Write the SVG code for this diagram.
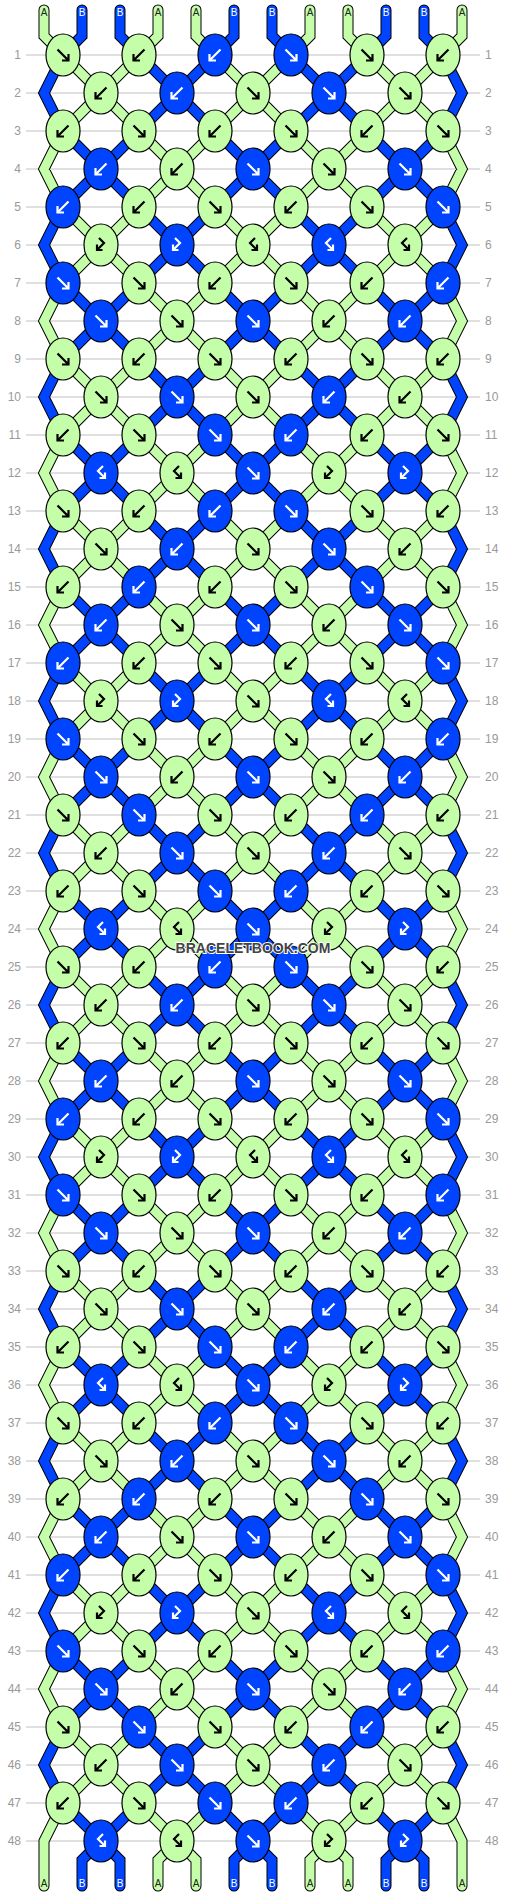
<svg xmlns="http://www.w3.org/2000/svg" xmlns:xlink="http://www.w3.org/1999/xlink" width="506" height="1896" viewBox="0 0 506 1896">
<style>
.kg{fill:#c4fea9;stroke:#000;stroke-width:1.2}
.kb{fill:#0044ff;stroke:#000;stroke-width:1.2}
.ab{fill:none;stroke:#000;stroke-width:2.2}
.aw{fill:none;stroke:#fff;stroke-width:2.2}
.ol{fill:none;stroke:#000;stroke-width:11}
.cg{fill:none;stroke:#c4fea9;stroke-width:9}
.cb{fill:none;stroke:#0044ff;stroke-width:9}
.rc{stroke-linecap:round}
.grid{fill:none;stroke:#c0c0c0;stroke-width:1}
.num{font-family:"Liberation Sans",Arial,sans-serif;font-size:12px;fill:#999}
.lbl{font-family:"Liberation Sans",Arial,sans-serif;font-size:10px;text-anchor:middle}
.la{fill:#222}
.lw{fill:#fff}
.wm{font-family:"Liberation Sans",Arial,sans-serif;font-size:14px;font-weight:bold;fill:#444;stroke:#fff;stroke-width:2;paint-order:stroke;text-anchor:middle}
</style>
<defs>
<clipPath id="cp"><rect x="0" y="55" width="506" height="1786"/></clipPath>
<path id="aF" d="M-5.5-5.5L5.5 5.5M5.5-1V5.5H-1"/>
<path id="aB" d="M5.5-5.5L-5.5 5.5M-5.5-1V5.5H1"/>
<path id="aL" d="M-2-7L3-2L-4 5M-4-0.5V5H1.5"/>
<path id="aR" d="M2-7L-3-2L4 5M4-0.5V5H-1.5"/>
<g id="gF"><ellipse class="kg" rx="17" ry="21"/><use href="#aF" class="ab"/></g>
<g id="gB"><ellipse class="kg" rx="17" ry="21"/><use href="#aB" class="ab"/></g>
<g id="gL"><ellipse class="kg" rx="17" ry="21"/><use href="#aL" class="ab"/></g>
<g id="gR"><ellipse class="kg" rx="17" ry="21"/><use href="#aR" class="ab"/></g>
<g id="bF"><ellipse class="kb" rx="17" ry="21"/><use href="#aF" class="aw"/></g>
<g id="bB"><ellipse class="kb" rx="17" ry="21"/><use href="#aB" class="aw"/></g>
<g id="bL"><ellipse class="kb" rx="17" ry="21"/><use href="#aL" class="aw"/></g>
<g id="bR"><ellipse class="kb" rx="17" ry="21"/><use href="#aR" class="aw"/></g>
<path id="dg" d="M63-249l380 380M443-249l-380 380M63-97l380 380M443-97l-380 380M63 55l380 380M443 55l-380 380M63 207l380 380M443 207l-380 380M63 359l380 380M443 359l-380 380M63 511l380 380M443 511l-380 380M63 663l380 380M443 663l-380 380M63 815l380 380M443 815l-380 380M63 967l380 380M443 967l-380 380M63 1119l380 380M443 1119l-380 380M63 1271l380 380M443 1271l-380 380M63 1423l380 380M443 1423l-380 380M63 1575l380 380M443 1575l-380 380M63 1727l380 380M443 1727l-380 380"/>
<path id="db" d="M63-173l380 380M443-173l-380 380M63-21l380 380M443-21l-380 380M63 131l380 380M443 131l-380 380M63 283l380 380M443 283l-380 380M63 435l380 380M443 435l-380 380M63 587l380 380M443 587l-380 380M63 739l380 380M443 739l-380 380M63 891l380 380M443 891l-380 380M63 1043l380 380M443 1043l-380 380M63 1195l380 380M443 1195l-380 380M63 1347l380 380M443 1347l-380 380M63 1499l380 380M443 1499l-380 380M63 1651l380 380M443 1651l-380 380M63 1803l380 380M443 1803l-380 380"/>
<path id="eb" d="M63 55L44 93L63 131M63 207L44 245L63 283M63 359L44 397L63 435M63 511L44 549L63 587M63 663L44 701L63 739M63 815L44 853L63 891M63 967L44 1005L63 1043M63 1119L44 1157L63 1195M63 1271L44 1309L63 1347M63 1423L44 1461L63 1499M63 1575L44 1613L63 1651M63 1727L44 1765L63 1803M443 55L462 93L443 131M443 207L462 245L443 283M443 359L462 397L443 435M443 511L462 549L443 587M443 663L462 701L443 739M443 815L462 853L443 891M443 967L462 1005L443 1043M443 1119L462 1157L443 1195M443 1271L462 1309L443 1347M443 1423L462 1461L443 1499M443 1575L462 1613L443 1651M443 1727L462 1765L443 1803"/>
<path id="eg2" d="M63 131L44 169L63 207M63 283L44 321L63 359M63 435L44 473L63 511M63 587L44 625L63 663M63 739L44 777L63 815M63 891L44 929L63 967M63 1043L44 1081L63 1119M63 1195L44 1233L63 1271M63 1347L44 1385L63 1423M63 1499L44 1537L63 1575M63 1651L44 1689L63 1727M443 131L462 169L443 207M443 283L462 321L443 359M443 435L462 473L443 511M443 587L462 625L443 663M443 739L462 777L443 815M443 891L462 929L443 967M443 1043L462 1081L443 1119M443 1195L462 1233L443 1271M443 1347L462 1385L443 1423M443 1499L462 1537L443 1575M443 1651L462 1689L443 1727"/>
<path id="sg" d="M44 10V36L63 55M158 10V36L139 55M196 10V36L215 55M310 10V36L291 55M348 10V36L367 55M462 10V36L443 55M63 1803L44 1841V1886M443 1803L462 1841V1886M177 1841L158 1860V1886M177 1841L196 1860V1886M329 1841L310 1860V1886M329 1841L348 1860V1886"/>
<path id="sb" d="M82 10V36L63 55M120 10V36L139 55M234 10V36L215 55M272 10V36L291 55M386 10V36L367 55M424 10V36L443 55M101 1841L82 1860V1886M101 1841L120 1860V1886M253 1841L234 1860V1886M253 1841L272 1860V1886M405 1841L386 1860V1886M405 1841L424 1860V1886"/>
</defs>
<rect width="506" height="1896" fill="#fff"/>
<path class="grid" d="M26 55H480M26 93H480M26 131H480M26 169H480M26 207H480M26 245H480M26 283H480M26 321H480M26 359H480M26 397H480M26 435H480M26 473H480M26 511H480M26 549H480M26 587H480M26 625H480M26 663H480M26 701H480M26 739H480M26 777H480M26 815H480M26 853H480M26 891H480M26 929H480M26 967H480M26 1005H480M26 1043H480M26 1081H480M26 1119H480M26 1157H480M26 1195H480M26 1233H480M26 1271H480M26 1309H480M26 1347H480M26 1385H480M26 1423H480M26 1461H480M26 1499H480M26 1537H480M26 1575H480M26 1613H480M26 1651H480M26 1689H480M26 1727H480M26 1765H480M26 1803H480M26 1841H480"/>
<g id="connectors">
<g clip-path="url(#cp)">
<use href="#dg" class="ol"/>
<use href="#db" class="ol"/>
</g>
<use href="#eb" class="ol rc"/>
<use href="#eg2" class="ol rc"/>
<use href="#sg" class="ol rc"/>
<use href="#sb" class="ol rc"/>
<g clip-path="url(#cp)">
<use href="#dg" class="cg"/>
<use href="#db" class="cb"/>
</g>
<use href="#eb" class="cb rc"/>
<use href="#eg2" class="cg rc"/>
<use href="#sg" class="cg rc"/>
<use href="#sb" class="cb rc"/>
</g>
<g id="knots">
<g id="n1-1"><use href="#gF" x="63" y="55"/></g><g id="n1-2"><use href="#gB" x="139" y="55"/></g><g id="n1-3"><use href="#bB" x="215" y="55"/></g><g id="n1-4"><use href="#bF" x="291" y="55"/></g><g id="n1-5"><use href="#gF" x="367" y="55"/></g><g id="n1-6"><use href="#gB" x="443" y="55"/></g>
<g id="n2-1"><use href="#gB" x="101" y="93"/></g><g id="n2-2"><use href="#bB" x="177" y="93"/></g><g id="n2-3"><use href="#gF" x="253" y="93"/></g><g id="n2-4"><use href="#bF" x="329" y="93"/></g><g id="n2-5"><use href="#gF" x="405" y="93"/></g>
<g id="n3-1"><use href="#gB" x="63" y="131"/></g><g id="n3-2"><use href="#gF" x="139" y="131"/></g><g id="n3-3"><use href="#gB" x="215" y="131"/></g><g id="n3-4"><use href="#gF" x="291" y="131"/></g><g id="n3-5"><use href="#gB" x="367" y="131"/></g><g id="n3-6"><use href="#gF" x="443" y="131"/></g>
<g id="n4-1"><use href="#bB" x="101" y="169"/></g><g id="n4-2"><use href="#gB" x="177" y="169"/></g><g id="n4-3"><use href="#bF" x="253" y="169"/></g><g id="n4-4"><use href="#gF" x="329" y="169"/></g><g id="n4-5"><use href="#bF" x="405" y="169"/></g>
<g id="n5-1"><use href="#bB" x="63" y="207"/></g><g id="n5-2"><use href="#gB" x="139" y="207"/></g><g id="n5-3"><use href="#gF" x="215" y="207"/></g><g id="n5-4"><use href="#gB" x="291" y="207"/></g><g id="n5-5"><use href="#gF" x="367" y="207"/></g><g id="n5-6"><use href="#bF" x="443" y="207"/></g>
<g id="n6-1"><use href="#gL" x="101" y="245"/></g><g id="n6-2"><use href="#bL" x="177" y="245"/></g><g id="n6-3"><use href="#gR" x="253" y="245"/></g><g id="n6-4"><use href="#bR" x="329" y="245"/></g><g id="n6-5"><use href="#gR" x="405" y="245"/></g>
<g id="n7-1"><use href="#bF" x="63" y="283"/></g><g id="n7-2"><use href="#gF" x="139" y="283"/></g><g id="n7-3"><use href="#gB" x="215" y="283"/></g><g id="n7-4"><use href="#gF" x="291" y="283"/></g><g id="n7-5"><use href="#gB" x="367" y="283"/></g><g id="n7-6"><use href="#bB" x="443" y="283"/></g>
<g id="n8-1"><use href="#bF" x="101" y="321"/></g><g id="n8-2"><use href="#gF" x="177" y="321"/></g><g id="n8-3"><use href="#bF" x="253" y="321"/></g><g id="n8-4"><use href="#gB" x="329" y="321"/></g><g id="n8-5"><use href="#bB" x="405" y="321"/></g>
<g id="n9-1"><use href="#gF" x="63" y="359"/></g><g id="n9-2"><use href="#gB" x="139" y="359"/></g><g id="n9-3"><use href="#gF" x="215" y="359"/></g><g id="n9-4"><use href="#gB" x="291" y="359"/></g><g id="n9-5"><use href="#gF" x="367" y="359"/></g><g id="n9-6"><use href="#gB" x="443" y="359"/></g>
<g id="n10-1"><use href="#gF" x="101" y="397"/></g><g id="n10-2"><use href="#bF" x="177" y="397"/></g><g id="n10-3"><use href="#gF" x="253" y="397"/></g><g id="n10-4"><use href="#bB" x="329" y="397"/></g><g id="n10-5"><use href="#gB" x="405" y="397"/></g>
<g id="n11-1"><use href="#gB" x="63" y="435"/></g><g id="n11-2"><use href="#gF" x="139" y="435"/></g><g id="n11-3"><use href="#bF" x="215" y="435"/></g><g id="n11-4"><use href="#bB" x="291" y="435"/></g><g id="n11-5"><use href="#gB" x="367" y="435"/></g><g id="n11-6"><use href="#gF" x="443" y="435"/></g>
<g id="n12-1"><use href="#bR" x="101" y="473"/></g><g id="n12-2"><use href="#gR" x="177" y="473"/></g><g id="n12-3"><use href="#bF" x="253" y="473"/></g><g id="n12-4"><use href="#gL" x="329" y="473"/></g><g id="n12-5"><use href="#bL" x="405" y="473"/></g>
<g id="n13-1"><use href="#gF" x="63" y="511"/></g><g id="n13-2"><use href="#gB" x="139" y="511"/></g><g id="n13-3"><use href="#bB" x="215" y="511"/></g><g id="n13-4"><use href="#bF" x="291" y="511"/></g><g id="n13-5"><use href="#gF" x="367" y="511"/></g><g id="n13-6"><use href="#gB" x="443" y="511"/></g>
<g id="n14-1"><use href="#gF" x="101" y="549"/></g><g id="n14-2"><use href="#bB" x="177" y="549"/></g><g id="n14-3"><use href="#gF" x="253" y="549"/></g><g id="n14-4"><use href="#bF" x="329" y="549"/></g><g id="n14-5"><use href="#gB" x="405" y="549"/></g>
<g id="n15-1"><use href="#gB" x="63" y="587"/></g><g id="n15-2"><use href="#bB" x="139" y="587"/></g><g id="n15-3"><use href="#gB" x="215" y="587"/></g><g id="n15-4"><use href="#gF" x="291" y="587"/></g><g id="n15-5"><use href="#bF" x="367" y="587"/></g><g id="n15-6"><use href="#gF" x="443" y="587"/></g>
<g id="n16-1"><use href="#bB" x="101" y="625"/></g><g id="n16-2"><use href="#gF" x="177" y="625"/></g><g id="n16-3"><use href="#bF" x="253" y="625"/></g><g id="n16-4"><use href="#gB" x="329" y="625"/></g><g id="n16-5"><use href="#bF" x="405" y="625"/></g>
<g id="n17-1"><use href="#bB" x="63" y="663"/></g><g id="n17-2"><use href="#gB" x="139" y="663"/></g><g id="n17-3"><use href="#gF" x="215" y="663"/></g><g id="n17-4"><use href="#gB" x="291" y="663"/></g><g id="n17-5"><use href="#gF" x="367" y="663"/></g><g id="n17-6"><use href="#bF" x="443" y="663"/></g>
<g id="n18-1"><use href="#gL" x="101" y="701"/></g><g id="n18-2"><use href="#bL" x="177" y="701"/></g><g id="n18-3"><use href="#gF" x="253" y="701"/></g><g id="n18-4"><use href="#bR" x="329" y="701"/></g><g id="n18-5"><use href="#gR" x="405" y="701"/></g>
<g id="n19-1"><use href="#bF" x="63" y="739"/></g><g id="n19-2"><use href="#gF" x="139" y="739"/></g><g id="n19-3"><use href="#gB" x="215" y="739"/></g><g id="n19-4"><use href="#gF" x="291" y="739"/></g><g id="n19-5"><use href="#gB" x="367" y="739"/></g><g id="n19-6"><use href="#bB" x="443" y="739"/></g>
<g id="n20-1"><use href="#bF" x="101" y="777"/></g><g id="n20-2"><use href="#gB" x="177" y="777"/></g><g id="n20-3"><use href="#bF" x="253" y="777"/></g><g id="n20-4"><use href="#gF" x="329" y="777"/></g><g id="n20-5"><use href="#bB" x="405" y="777"/></g>
<g id="n21-1"><use href="#gF" x="63" y="815"/></g><g id="n21-2"><use href="#bF" x="139" y="815"/></g><g id="n21-3"><use href="#gF" x="215" y="815"/></g><g id="n21-4"><use href="#gB" x="291" y="815"/></g><g id="n21-5"><use href="#bB" x="367" y="815"/></g><g id="n21-6"><use href="#gB" x="443" y="815"/></g>
<g id="n22-1"><use href="#gB" x="101" y="853"/></g><g id="n22-2"><use href="#bF" x="177" y="853"/></g><g id="n22-3"><use href="#gF" x="253" y="853"/></g><g id="n22-4"><use href="#bB" x="329" y="853"/></g><g id="n22-5"><use href="#gF" x="405" y="853"/></g>
<g id="n23-1"><use href="#gB" x="63" y="891"/></g><g id="n23-2"><use href="#gF" x="139" y="891"/></g><g id="n23-3"><use href="#bF" x="215" y="891"/></g><g id="n23-4"><use href="#bB" x="291" y="891"/></g><g id="n23-5"><use href="#gB" x="367" y="891"/></g><g id="n23-6"><use href="#gF" x="443" y="891"/></g>
<g id="n24-1"><use href="#bR" x="101" y="929"/></g><g id="n24-2"><use href="#gR" x="177" y="929"/></g><g id="n24-3"><use href="#bF" x="253" y="929"/></g><g id="n24-4"><use href="#gL" x="329" y="929"/></g><g id="n24-5"><use href="#bL" x="405" y="929"/></g>
<g id="n25-1"><use href="#gF" x="63" y="967"/></g><g id="n25-2"><use href="#gB" x="139" y="967"/></g><g id="n25-3"><use href="#bB" x="215" y="967"/></g><g id="n25-4"><use href="#bF" x="291" y="967"/></g><g id="n25-5"><use href="#gF" x="367" y="967"/></g><g id="n25-6"><use href="#gB" x="443" y="967"/></g>
<g id="n26-1"><use href="#gB" x="101" y="1005"/></g><g id="n26-2"><use href="#bB" x="177" y="1005"/></g><g id="n26-3"><use href="#gF" x="253" y="1005"/></g><g id="n26-4"><use href="#bF" x="329" y="1005"/></g><g id="n26-5"><use href="#gF" x="405" y="1005"/></g>
<g id="n27-1"><use href="#gB" x="63" y="1043"/></g><g id="n27-2"><use href="#gF" x="139" y="1043"/></g><g id="n27-3"><use href="#gB" x="215" y="1043"/></g><g id="n27-4"><use href="#gF" x="291" y="1043"/></g><g id="n27-5"><use href="#gB" x="367" y="1043"/></g><g id="n27-6"><use href="#gF" x="443" y="1043"/></g>
<g id="n28-1"><use href="#bB" x="101" y="1081"/></g><g id="n28-2"><use href="#gB" x="177" y="1081"/></g><g id="n28-3"><use href="#bF" x="253" y="1081"/></g><g id="n28-4"><use href="#gF" x="329" y="1081"/></g><g id="n28-5"><use href="#bF" x="405" y="1081"/></g>
<g id="n29-1"><use href="#bB" x="63" y="1119"/></g><g id="n29-2"><use href="#gB" x="139" y="1119"/></g><g id="n29-3"><use href="#gF" x="215" y="1119"/></g><g id="n29-4"><use href="#gB" x="291" y="1119"/></g><g id="n29-5"><use href="#gF" x="367" y="1119"/></g><g id="n29-6"><use href="#bF" x="443" y="1119"/></g>
<g id="n30-1"><use href="#gL" x="101" y="1157"/></g><g id="n30-2"><use href="#bL" x="177" y="1157"/></g><g id="n30-3"><use href="#gR" x="253" y="1157"/></g><g id="n30-4"><use href="#bR" x="329" y="1157"/></g><g id="n30-5"><use href="#gR" x="405" y="1157"/></g>
<g id="n31-1"><use href="#bF" x="63" y="1195"/></g><g id="n31-2"><use href="#gF" x="139" y="1195"/></g><g id="n31-3"><use href="#gB" x="215" y="1195"/></g><g id="n31-4"><use href="#gF" x="291" y="1195"/></g><g id="n31-5"><use href="#gB" x="367" y="1195"/></g><g id="n31-6"><use href="#bB" x="443" y="1195"/></g>
<g id="n32-1"><use href="#bF" x="101" y="1233"/></g><g id="n32-2"><use href="#gF" x="177" y="1233"/></g><g id="n32-3"><use href="#bF" x="253" y="1233"/></g><g id="n32-4"><use href="#gB" x="329" y="1233"/></g><g id="n32-5"><use href="#bB" x="405" y="1233"/></g>
<g id="n33-1"><use href="#gF" x="63" y="1271"/></g><g id="n33-2"><use href="#gB" x="139" y="1271"/></g><g id="n33-3"><use href="#gF" x="215" y="1271"/></g><g id="n33-4"><use href="#gB" x="291" y="1271"/></g><g id="n33-5"><use href="#gF" x="367" y="1271"/></g><g id="n33-6"><use href="#gB" x="443" y="1271"/></g>
<g id="n34-1"><use href="#gF" x="101" y="1309"/></g><g id="n34-2"><use href="#bF" x="177" y="1309"/></g><g id="n34-3"><use href="#gF" x="253" y="1309"/></g><g id="n34-4"><use href="#bB" x="329" y="1309"/></g><g id="n34-5"><use href="#gB" x="405" y="1309"/></g>
<g id="n35-1"><use href="#gB" x="63" y="1347"/></g><g id="n35-2"><use href="#gF" x="139" y="1347"/></g><g id="n35-3"><use href="#bF" x="215" y="1347"/></g><g id="n35-4"><use href="#bB" x="291" y="1347"/></g><g id="n35-5"><use href="#gB" x="367" y="1347"/></g><g id="n35-6"><use href="#gF" x="443" y="1347"/></g>
<g id="n36-1"><use href="#bR" x="101" y="1385"/></g><g id="n36-2"><use href="#gR" x="177" y="1385"/></g><g id="n36-3"><use href="#bF" x="253" y="1385"/></g><g id="n36-4"><use href="#gL" x="329" y="1385"/></g><g id="n36-5"><use href="#bL" x="405" y="1385"/></g>
<g id="n37-1"><use href="#gF" x="63" y="1423"/></g><g id="n37-2"><use href="#gB" x="139" y="1423"/></g><g id="n37-3"><use href="#bB" x="215" y="1423"/></g><g id="n37-4"><use href="#bF" x="291" y="1423"/></g><g id="n37-5"><use href="#gF" x="367" y="1423"/></g><g id="n37-6"><use href="#gB" x="443" y="1423"/></g>
<g id="n38-1"><use href="#gF" x="101" y="1461"/></g><g id="n38-2"><use href="#bB" x="177" y="1461"/></g><g id="n38-3"><use href="#gF" x="253" y="1461"/></g><g id="n38-4"><use href="#bF" x="329" y="1461"/></g><g id="n38-5"><use href="#gB" x="405" y="1461"/></g>
<g id="n39-1"><use href="#gB" x="63" y="1499"/></g><g id="n39-2"><use href="#bB" x="139" y="1499"/></g><g id="n39-3"><use href="#gB" x="215" y="1499"/></g><g id="n39-4"><use href="#gF" x="291" y="1499"/></g><g id="n39-5"><use href="#bF" x="367" y="1499"/></g><g id="n39-6"><use href="#gF" x="443" y="1499"/></g>
<g id="n40-1"><use href="#bB" x="101" y="1537"/></g><g id="n40-2"><use href="#gF" x="177" y="1537"/></g><g id="n40-3"><use href="#bF" x="253" y="1537"/></g><g id="n40-4"><use href="#gB" x="329" y="1537"/></g><g id="n40-5"><use href="#bF" x="405" y="1537"/></g>
<g id="n41-1"><use href="#bB" x="63" y="1575"/></g><g id="n41-2"><use href="#gB" x="139" y="1575"/></g><g id="n41-3"><use href="#gF" x="215" y="1575"/></g><g id="n41-4"><use href="#gB" x="291" y="1575"/></g><g id="n41-5"><use href="#gF" x="367" y="1575"/></g><g id="n41-6"><use href="#bF" x="443" y="1575"/></g>
<g id="n42-1"><use href="#gL" x="101" y="1613"/></g><g id="n42-2"><use href="#bL" x="177" y="1613"/></g><g id="n42-3"><use href="#gF" x="253" y="1613"/></g><g id="n42-4"><use href="#bR" x="329" y="1613"/></g><g id="n42-5"><use href="#gR" x="405" y="1613"/></g>
<g id="n43-1"><use href="#bF" x="63" y="1651"/></g><g id="n43-2"><use href="#gF" x="139" y="1651"/></g><g id="n43-3"><use href="#gB" x="215" y="1651"/></g><g id="n43-4"><use href="#gF" x="291" y="1651"/></g><g id="n43-5"><use href="#gB" x="367" y="1651"/></g><g id="n43-6"><use href="#bB" x="443" y="1651"/></g>
<g id="n44-1"><use href="#bF" x="101" y="1689"/></g><g id="n44-2"><use href="#gB" x="177" y="1689"/></g><g id="n44-3"><use href="#bF" x="253" y="1689"/></g><g id="n44-4"><use href="#gF" x="329" y="1689"/></g><g id="n44-5"><use href="#bB" x="405" y="1689"/></g>
<g id="n45-1"><use href="#gF" x="63" y="1727"/></g><g id="n45-2"><use href="#bF" x="139" y="1727"/></g><g id="n45-3"><use href="#gF" x="215" y="1727"/></g><g id="n45-4"><use href="#gB" x="291" y="1727"/></g><g id="n45-5"><use href="#bB" x="367" y="1727"/></g><g id="n45-6"><use href="#gB" x="443" y="1727"/></g>
<g id="n46-1"><use href="#gB" x="101" y="1765"/></g><g id="n46-2"><use href="#bF" x="177" y="1765"/></g><g id="n46-3"><use href="#gF" x="253" y="1765"/></g><g id="n46-4"><use href="#bB" x="329" y="1765"/></g><g id="n46-5"><use href="#gF" x="405" y="1765"/></g>
<g id="n47-1"><use href="#gB" x="63" y="1803"/></g><g id="n47-2"><use href="#gF" x="139" y="1803"/></g><g id="n47-3"><use href="#bF" x="215" y="1803"/></g><g id="n47-4"><use href="#bB" x="291" y="1803"/></g><g id="n47-5"><use href="#gB" x="367" y="1803"/></g><g id="n47-6"><use href="#gF" x="443" y="1803"/></g>
<g id="n48-1"><use href="#bR" x="101" y="1841"/></g><g id="n48-2"><use href="#gR" x="177" y="1841"/></g><g id="n48-3"><use href="#bF" x="253" y="1841"/></g><g id="n48-4"><use href="#gL" x="329" y="1841"/></g><g id="n48-5"><use href="#bL" x="405" y="1841"/></g>
</g>
<g id="labels" class="lbl">
<text class="la" x="44" y="15.7">A</text><text class="lw" x="82" y="15.7">B</text><text class="lw" x="120" y="15.7">B</text><text class="la" x="158" y="15.7">A</text><text class="la" x="196" y="15.7">A</text><text class="lw" x="234" y="15.7">B</text><text class="lw" x="272" y="15.7">B</text><text class="la" x="310" y="15.7">A</text><text class="la" x="348" y="15.7">A</text><text class="lw" x="386" y="15.7">B</text><text class="lw" x="424" y="15.7">B</text><text class="la" x="462" y="15.7">A</text>
<text class="la" x="44" y="1887.3">A</text><text class="lw" x="82" y="1887.3">B</text><text class="lw" x="120" y="1887.3">B</text><text class="la" x="158" y="1887.3">A</text><text class="la" x="196" y="1887.3">A</text><text class="lw" x="234" y="1887.3">B</text><text class="lw" x="272" y="1887.3">B</text><text class="la" x="310" y="1887.3">A</text><text class="la" x="348" y="1887.3">A</text><text class="lw" x="386" y="1887.3">B</text><text class="lw" x="424" y="1887.3">B</text><text class="la" x="462" y="1887.3">A</text>
</g>
<g id="rownums-left" class="num" text-anchor="end">
<text x="21" y="59">1</text><text x="21" y="97">2</text><text x="21" y="135">3</text><text x="21" y="173">4</text><text x="21" y="211">5</text><text x="21" y="249">6</text><text x="21" y="287">7</text><text x="21" y="325">8</text><text x="21" y="363">9</text><text x="21" y="401">10</text><text x="21" y="439">11</text><text x="21" y="477">12</text><text x="21" y="515">13</text><text x="21" y="553">14</text><text x="21" y="591">15</text><text x="21" y="629">16</text><text x="21" y="667">17</text><text x="21" y="705">18</text><text x="21" y="743">19</text><text x="21" y="781">20</text><text x="21" y="819">21</text><text x="21" y="857">22</text><text x="21" y="895">23</text><text x="21" y="933">24</text><text x="21" y="971">25</text><text x="21" y="1009">26</text><text x="21" y="1047">27</text><text x="21" y="1085">28</text><text x="21" y="1123">29</text><text x="21" y="1161">30</text><text x="21" y="1199">31</text><text x="21" y="1237">32</text><text x="21" y="1275">33</text><text x="21" y="1313">34</text><text x="21" y="1351">35</text><text x="21" y="1389">36</text><text x="21" y="1427">37</text><text x="21" y="1465">38</text><text x="21" y="1503">39</text><text x="21" y="1541">40</text><text x="21" y="1579">41</text><text x="21" y="1617">42</text><text x="21" y="1655">43</text><text x="21" y="1693">44</text><text x="21" y="1731">45</text><text x="21" y="1769">46</text><text x="21" y="1807">47</text><text x="21" y="1845">48</text>
</g>
<g id="rownums-right" class="num">
<text x="485" y="59">1</text><text x="485" y="97">2</text><text x="485" y="135">3</text><text x="485" y="173">4</text><text x="485" y="211">5</text><text x="485" y="249">6</text><text x="485" y="287">7</text><text x="485" y="325">8</text><text x="485" y="363">9</text><text x="485" y="401">10</text><text x="485" y="439">11</text><text x="485" y="477">12</text><text x="485" y="515">13</text><text x="485" y="553">14</text><text x="485" y="591">15</text><text x="485" y="629">16</text><text x="485" y="667">17</text><text x="485" y="705">18</text><text x="485" y="743">19</text><text x="485" y="781">20</text><text x="485" y="819">21</text><text x="485" y="857">22</text><text x="485" y="895">23</text><text x="485" y="933">24</text><text x="485" y="971">25</text><text x="485" y="1009">26</text><text x="485" y="1047">27</text><text x="485" y="1085">28</text><text x="485" y="1123">29</text><text x="485" y="1161">30</text><text x="485" y="1199">31</text><text x="485" y="1237">32</text><text x="485" y="1275">33</text><text x="485" y="1313">34</text><text x="485" y="1351">35</text><text x="485" y="1389">36</text><text x="485" y="1427">37</text><text x="485" y="1465">38</text><text x="485" y="1503">39</text><text x="485" y="1541">40</text><text x="485" y="1579">41</text><text x="485" y="1617">42</text><text x="485" y="1655">43</text><text x="485" y="1693">44</text><text x="485" y="1731">45</text><text x="485" y="1769">46</text><text x="485" y="1807">47</text><text x="485" y="1845">48</text>
</g>
<text id="watermark" class="wm" x="253" y="952.5">BRACELETBOOK.COM</text>
</svg>
